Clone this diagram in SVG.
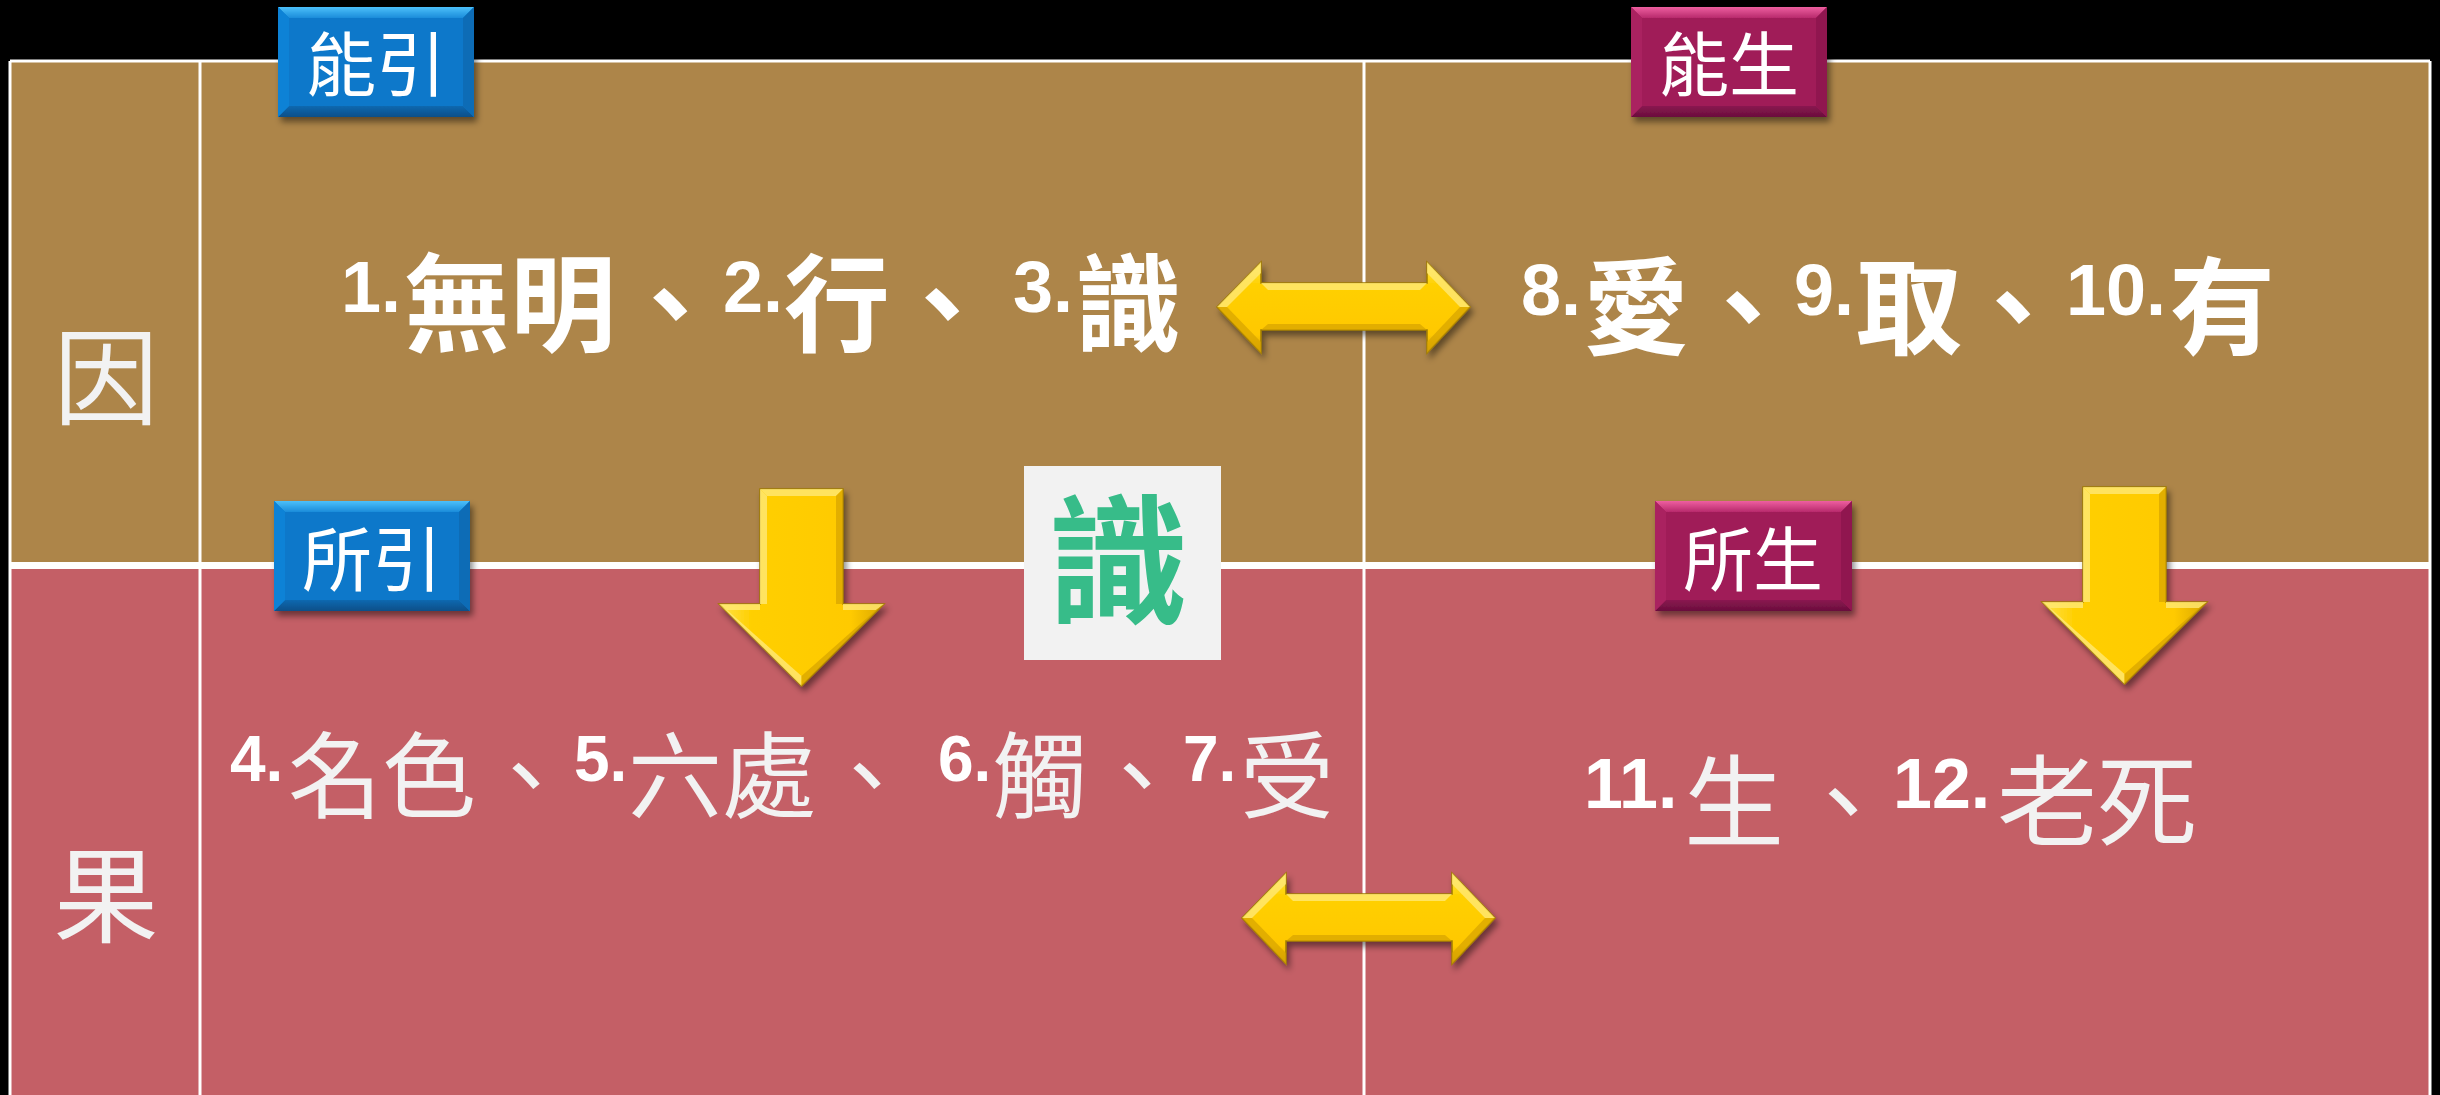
<svg xmlns="http://www.w3.org/2000/svg" width="2440" height="1095" viewBox="0 0 2440 1095">
<defs>
<style>
.cjkb{font-family:"Noto Sans CJK TC","Noto Sans CJK SC",sans-serif;font-weight:700;fill:#FFFFFF}
.cjk{font-family:"Noto Sans CJK TC","Noto Sans CJK SC",sans-serif;font-weight:400;fill:#F2F2F2}
.num{font-family:"Liberation Sans",Arial,sans-serif;font-weight:700;fill:#FFFFFF}
.lbl{font-family:"Noto Sans CJK TC","Noto Sans CJK SC",sans-serif;font-weight:400;fill:#FFFFFF;font-size:70px;text-anchor:middle}
.side{font-family:"Noto Sans CJK TC","Noto Sans CJK SC",sans-serif;font-weight:400;fill:#F2F2F2;font-size:105px;text-anchor:middle}
.grid{stroke:#FFFFFF;fill:none}
.arrowV{fill:url(#gV);stroke:#A07C00;stroke-width:1.5}
.arrowH{fill:url(#gH);stroke:#A07C00;stroke-width:1.5}
.hi{fill:#FFE977;opacity:0.8}
.lo{fill:#D6A200;opacity:0.7}
</style>
<filter id="sh" x="-20%" y="-20%" width="150%" height="150%">
<feDropShadow dx="3" dy="5" stdDeviation="3" flood-color="#000" flood-opacity="0.45"/>
</filter>
<linearGradient id="gV" x1="0" y1="0" x2="1" y2="0">
<stop offset="0" stop-color="#FFE24A"/>
<stop offset="0.2" stop-color="#FFCF00"/>
<stop offset="0.8" stop-color="#FFCA00"/>
<stop offset="1" stop-color="#D9A600"/>
</linearGradient>
<linearGradient id="gH" x1="0" y1="0" x2="0" y2="1">
<stop offset="0" stop-color="#FFE84A"/>
<stop offset="0.25" stop-color="#FFD000"/>
<stop offset="0.8" stop-color="#FFC800"/>
<stop offset="1" stop-color="#D9A300"/>
</linearGradient>
<linearGradient id="blueTop" x1="0" y1="0" x2="0" y2="1">
<stop offset="0" stop-color="#4CC0FA"/>
<stop offset="1" stop-color="#1A8CDA"/>
</linearGradient>
<linearGradient id="blueBot" x1="0" y1="0" x2="0" y2="1">
<stop offset="0" stop-color="#0A68B0"/>
<stop offset="1" stop-color="#0A4F88"/>
</linearGradient>
<linearGradient id="magTop" x1="0" y1="0" x2="0" y2="1">
<stop offset="0" stop-color="#EE5FA0"/>
<stop offset="1" stop-color="#B82A6C"/>
</linearGradient>
<linearGradient id="magBot" x1="0" y1="0" x2="0" y2="1">
<stop offset="0" stop-color="#8A1650"/>
<stop offset="1" stop-color="#6A0F3C"/>
</linearGradient>
<g id="downArrow">
<path class="arrowV" d="M0,0 H83 V115 H124 L41.5,197 L-41,115 H0 Z"/>
<polygon class="hi" points="0,0 83,0 76,7 7,7"/>
<polygon class="hi" points="0,0 7,7 7,115 0,115"/>
<polygon class="lo" points="83,0 76,7 76,115 83,115"/>
<polygon class="hi" points="-41,115 0,115 0,121 -33,121"/>
<polygon class="hi" points="83,115 124,115 116,121 83,121"/>
<polygon class="hi" points="-41,115 -33,121 41.5,187 41.5,197"/>
<polygon class="lo" points="124,115 116,121 41.5,187 41.5,197"/>
</g>
<g id="dblArrow">
<path class="arrowH" d="M0,0 L44,-45 V-24 H210 V-45 L253,0 L210,46 V23 H44 V46 Z"/>
<polygon class="hi" points="44,-24 210,-24 203,-17 51,-17"/>
<polygon class="lo" points="44,23 210,23 203,17 51,17"/>
<polygon class="hi" points="0,0 44,-45 44,-34 10,0"/>
<polygon class="lo" points="0,0 44,46 44,35 10,0"/>
<polygon class="hi" points="253,0 210,-45 210,-34 243,0"/>
<polygon class="lo" points="253,0 210,46 210,35 243,0"/>
</g>
</defs>

<rect x="0" y="0" width="2440" height="1095" fill="#000000"/>

<g id="table">
<rect id="row-cause" x="10" y="61" width="2420" height="504" fill="#AD8549"/>
<rect id="row-effect" x="10" y="565" width="2420" height="530" fill="#C45F66"/>
<line class="grid" x1="10" y1="61" x2="2430" y2="61" stroke-width="3"/>
<line class="grid" x1="10" y1="61" x2="10" y2="1095" stroke-width="3"/>
<line class="grid" x1="2430" y1="61" x2="2430" y2="1095" stroke-width="3"/>
<line class="grid" x1="200" y1="61" x2="200" y2="1095" stroke-width="3"/>
<line class="grid" x1="1364" y1="61" x2="1364" y2="1095" stroke-width="3"/>
<line class="grid" x1="10" y1="565.5" x2="2430" y2="565.5" stroke-width="7"/>
</g>

<g id="side-cause"><text class="side" x="106" y="416">因</text></g>
<g id="side-effect"><text class="side" x="106" y="934">果</text></g>

<g id="connectors">
<use href="#dblArrow" transform="translate(1217,307)" filter="url(#sh)"/>
<use href="#dblArrow" transform="translate(1242,918)" filter="url(#sh)"/>
<use href="#downArrow" transform="translate(760,489)" filter="url(#sh)"/>
<use href="#downArrow" transform="translate(2083,487)" filter="url(#sh)"/>
</g>

<g id="shi-box">
<rect x="1024" y="466" width="197" height="194" fill="#F2F2F2"/>
<text x="1118" y="613" font-family="Noto Sans CJK TC, Noto Sans CJK SC, sans-serif" font-weight="700" font-size="140" fill="#37BC89" text-anchor="middle">識</text>
</g>

<g id="label-nengyin" filter="url(#sh)">
<rect x="278" y="7" width="196" height="110" fill="#0878CA"/>
<polygon points="278,7 474,7 463,18 289,18" fill="url(#blueTop)"/>
<polygon points="278,117 474,117 463,106 289,106" fill="url(#blueBot)"/>
<polygon points="278,7 289,18 289,106 278,117" fill="#0B82D6"/>
<polygon points="474,7 463,18 463,106 474,117" fill="#086CB6"/>
<text class="lbl" x="376" y="91">能引</text>
</g>

<g id="label-nengsheng" filter="url(#sh)">
<rect x="1631" y="7" width="196" height="110" fill="#A01A58"/>
<polygon points="1631,7 1827,7 1816,18 1642,18" fill="url(#magTop)"/>
<polygon points="1631,117 1827,117 1816,106 1642,106" fill="url(#magBot)"/>
<polygon points="1631,7 1642,18 1642,106 1631,117" fill="#AA2060"/>
<polygon points="1827,7 1816,18 1816,106 1827,117" fill="#901650"/>
<text class="lbl" x="1729" y="91">能生</text>
</g>

<g id="label-suoyin" filter="url(#sh)">
<rect x="274" y="501" width="196" height="110" fill="#0878CA"/>
<polygon points="274,501 470,501 459,512 285,512" fill="url(#blueTop)"/>
<polygon points="274,611 470,611 459,600 285,600" fill="url(#blueBot)"/>
<polygon points="274,501 285,512 285,600 274,611" fill="#0B82D6"/>
<polygon points="470,501 459,512 459,600 470,611" fill="#086CB6"/>
<text class="lbl" x="372" y="586">所引</text>
</g>

<g id="label-suosheng" filter="url(#sh)">
<rect x="1655" y="501" width="197" height="110" fill="#A01A58"/>
<polygon points="1655,501 1852,501 1841,512 1666,512" fill="url(#magTop)"/>
<polygon points="1655,611 1852,611 1841,600 1666,600" fill="url(#magBot)"/>
<polygon points="1655,501 1666,512 1666,600 1655,611" fill="#AA2060"/>
<polygon points="1852,501 1841,512 1841,600 1852,611" fill="#901650"/>
<text class="lbl" x="1753" y="586">所生</text>
</g>

<g id="text-cause-left">
<text class="num" x="341" y="312" font-size="72">1.</text>
<text class="cjkb" x="404" y="343" font-size="106">無明</text>
<text class="cjkb" x="617" y="343" font-size="106">、</text>
<text class="num" x="723" y="312" font-size="72">2.</text>
<text class="cjkb" x="784" y="343" font-size="106">行</text>
<text class="cjkb" x="889" y="343" font-size="106">、</text>
<text class="num" x="1013" y="312" font-size="72">3.</text>
<text class="cjkb" x="1075" y="343" font-size="106">識</text>
</g>

<g id="text-cause-right">
<text class="num" x="1521" y="315" font-size="72" fill="#F2F2F2">8.</text>
<text class="cjkb" x="1583" y="346" font-size="106">愛</text>
<text class="cjkb" x="1690" y="346" font-size="106">、</text>
<text class="num" x="1794" y="315" font-size="72">9.</text>
<text class="cjkb" x="1856" y="346" font-size="106">取</text>
<text class="cjkb" x="1960" y="346" font-size="106">、</text>
<text class="num" x="2066" y="315" font-size="72">10.</text>
<text class="cjkb" x="2169" y="346" font-size="106">有</text>
</g>

<g id="text-effect-left">
<text class="num" x="230" y="781" font-size="64">4.</text>
<text class="cjk" x="288" y="811" font-size="94">名色</text>
<text class="cjk" x="479" y="811" font-size="94">、</text>
<text class="num" x="574" y="781" font-size="64">5.</text>
<text class="cjk" x="628" y="811" font-size="94">六處</text>
<text class="cjk" x="820" y="811" font-size="94">、</text>
<text class="num" x="938" y="781" font-size="64">6.</text>
<text class="cjk" x="993" y="811" font-size="94">觸</text>
<text class="cjk" x="1090" y="811" font-size="94">、</text>
<text class="num" x="1183" y="781" font-size="64">7.</text>
<text class="cjk" x="1240" y="811" font-size="94">受</text>
</g>

<g id="text-effect-right">
<text class="num" x="1584" y="808" font-size="70">11.</text>
<text class="cjk" x="1684" y="839" font-size="100">生</text>
<text class="cjk" x="1793" y="839" font-size="100">、</text>
<text class="num" x="1893" y="808" font-size="70">12.</text>
<text class="cjk" x="1997" y="839" font-size="100">老死</text>
</g>
</svg>
